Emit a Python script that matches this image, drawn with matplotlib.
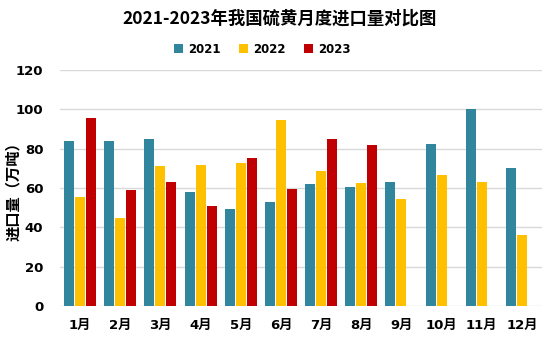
import matplotlib.pyplot as plt
import numpy as np

plt.rcParams['font.family'] = ['Noto Sans CJK SC', 'DejaVu Sans']

months = ['1月', '2月', '3月', '4月', '5月', '6月', '7月', '8月', '9月', '10月', '11月', '12月']
y2021 = [83.9, 83.9, 84.9, 58.0, 49.3, 52.9, 62.0, 60.5, 63.1, 82.4, 100.2, 70.2]
y2022 = [55.4, 44.7, 71.2, 71.7, 72.7, 94.6, 68.6, 62.5, 54.4, 66.6, 63.1, 36.1]
y2023 = [95.6, 59.0, 63.1, 50.8, 75.3, 59.5, 84.9, 81.9]

fig = plt.figure(figsize=(5.49, 3.40), dpi=100)
ax = fig.add_axes([60 / 549, 34 / 340, 482 / 549, 236 / 340])

x = np.arange(len(months))
w = 0.25
step = 0.275
ax.bar(x - step, y2021, w, color='#31859C', label='2021', zorder=3)
ax.bar(x, y2022, w, color='#FFC000', label='2022', zorder=3)
ax.bar(x[:len(y2023)] + step, y2023, w, color='#C00000', label='2023', zorder=3)

ax.set_xlim(-0.5, 11.5)
ax.set_ylim(0, 120)
ax.set_yticks(range(0, 121, 20))
ax.set_xticks(x)
ax.set_xticklabels(months)
ax.grid(axis='y', color='#D9D9D9', linewidth=1, zorder=0)
for s in ['top', 'right', 'left', 'bottom']:
    ax.spines[s].set_visible(False)
ax.tick_params(length=0, labelsize=9.5)
ax.tick_params(axis='x', pad=9)
ax.tick_params(axis='y', pad=12)
for t in ax.get_xticklabels() + ax.get_yticklabels():
    t.set_fontweight('bold')
    t.set_family(['DejaVu Sans', 'Noto Sans CJK SC'])

ax.set_ylabel('进口量（万吨）', fontsize=11, fontweight='bold')
ax.yaxis.set_label_coords(-0.08, 0.5)

fig.text(0.51, 0.945, '2021-2023年我国硫黄月度进口量对比图', ha='center', va='center',
         fontsize=12.5, fontweight='bold')
fig.legend(loc='center', bbox_to_anchor=(0.478, 0.855), ncol=3, frameon=False,
           prop={'size': 8.5, 'weight': 'bold', 'family': ['DejaVu Sans']},
           handlelength=0.75, handleheight=0.75,
           columnspacing=1.6, handletextpad=0.4)

fig.savefig('out.png', dpi=100)
